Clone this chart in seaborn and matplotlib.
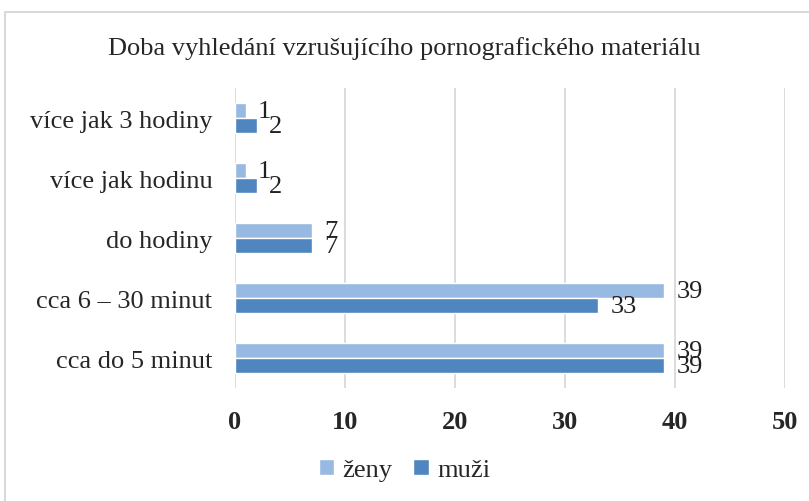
import pandas as pd
import matplotlib.pyplot as plt
import seaborn as sns
from matplotlib.patches import Rectangle

# ------------------------------------------
# Data
# ------------------------------------------
categories = ["více jak 3 hodiny", "více jak hodinu", "do hodiny",
              "cca 6 – 30 minut", "cca do 5 minut"]
zeny = [1, 1, 7, 39, 39]
muzi = [2, 2, 7, 33, 39]
series = ["ženy", "muži"]
colors = ["#98b9e1", "#4f86c0"]

df = pd.DataFrame({
    "kategorie": categories * 2,
    "hodnota": zeny + muzi,
    "pohlavi": ["ženy"] * len(zeny) + ["muži"] * len(muzi),
})

# ------------------------------------------
# Plot
# ------------------------------------------
sns.set_style("white")
plt.rcParams["font.family"] = ["Liberation Serif", "DejaVu Serif"]

fig = plt.figure(figsize=(8.09, 5.02), dpi=100)
ax = fig.add_axes([0.29, 0.225, 0.68, 0.597])

sns.barplot(data=df, y="kategorie", x="hodnota", hue="pohlavi",
            order=categories, hue_order=series, palette=colors,
            orient="h", width=0.5, ax=ax, saturation=1, legend=True)

for cont in ax.containers:
    ax.bar_label(cont, padding=9, fontsize=19, color="#222222")

ax.set_xlim(0, 50)
ax.set_xticks(range(0, 51, 10))
ax.grid(axis="x", color="#d9d9d9", lw=1.3)
ax.set_axisbelow(True)
for s in ax.spines.values():
    s.set_visible(False)
ax.set_xlabel("")
ax.set_ylabel("")
ax.tick_params(axis="x", labelsize=19, pad=16, length=0)
ax.tick_params(axis="y", labelsize=19, pad=16, length=0)
for t in ax.get_xticklabels():
    t.set_fontweight("bold")

handles, labels = ax.get_legend_handles_labels()
ax.get_legend().remove()
fig.legend(handles, labels, loc="center", bbox_to_anchor=(0.5, 0.062), ncol=2,
           frameon=False, fontsize=19, handlelength=0.6, handleheight=0.6,
           handletextpad=0.3, columnspacing=0.8)

fig.text(0.5, 0.904, "Doba vyhledání vzrušujícího pornografického materiálu",
         ha="center", va="center", fontsize=19)

fig.add_artist(Rectangle((0.006, -0.05), 1.1, 1.024, transform=fig.transFigure,
                         fill=False, edgecolor="#d9d9d9", lw=1.5))

fig.savefig("out.png", dpi=100)
